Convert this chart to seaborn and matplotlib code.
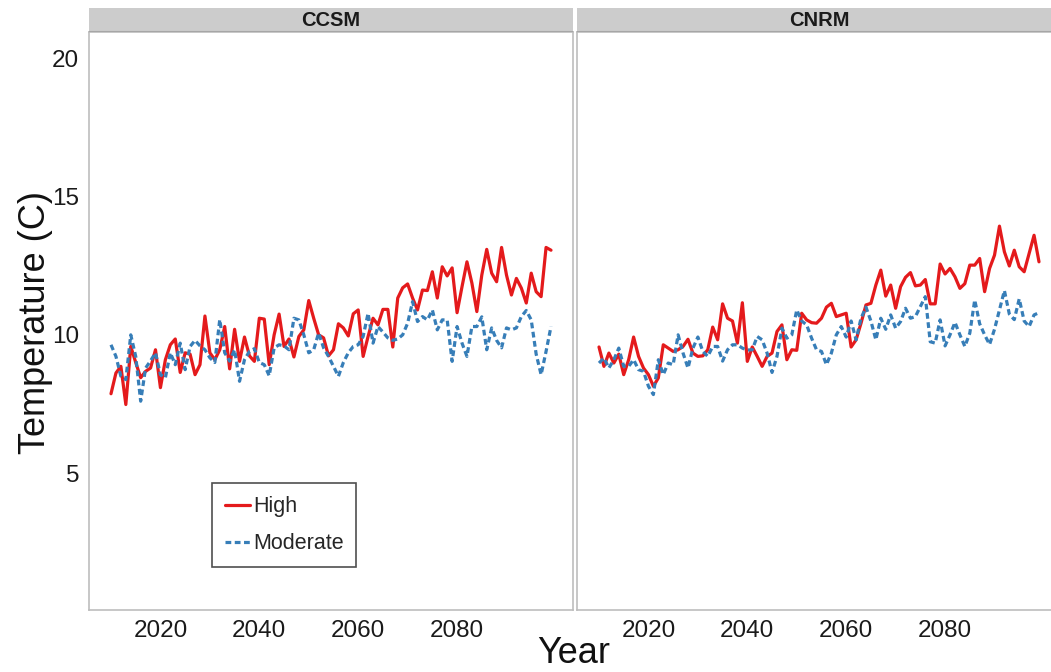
import matplotlib
matplotlib.use("Agg")
import pandas as pd
import matplotlib.pyplot as plt
import seaborn as sns

# =============================================================================
# Data
# =============================================================================
years = list(range(2010, 2100))

ccsm_high = [
    7.87, 8.62, 8.86, 7.48, 9.58, 9.00, 8.45, 8.68, 8.80, 9.46,
    8.09, 9.10, 9.64, 9.85, 8.64, 9.35, 9.30, 8.56, 8.92, 10.68,
    9.35, 9.10, 9.46, 10.30, 8.77, 10.20, 9.04, 9.92, 9.24, 9.04,
    10.60, 10.57, 8.92, 10.00, 10.75, 9.58, 9.85, 9.20, 9.94, 10.18,
    11.24, 10.60, 10.00, 9.89, 9.24, 9.46, 10.40, 10.25, 9.96, 10.76,
    10.90, 9.22, 9.94, 10.60, 10.36, 10.92, 10.92, 9.56, 11.33, 11.70,
    11.84, 11.33, 10.90, 11.62, 11.60, 12.28, 11.33, 12.46, 12.13, 12.42,
    10.80, 11.74, 12.64, 11.87, 10.84, 12.16, 13.09, 12.23, 11.92, 13.16,
    12.16, 11.44, 12.04, 11.69, 11.15, 12.23, 11.56, 11.38, 13.16, 13.06,
]
ccsm_moderate = [
    9.64, 9.22, 8.50, 8.38, 10.00, 9.22, 7.60, 8.80, 9.06, 9.35,
    8.56, 8.45, 9.35, 8.92, 9.70, 8.74, 9.58, 9.80, 9.60, 9.46,
    9.17, 9.00, 10.55, 9.35, 9.05, 9.46, 8.32, 9.10, 9.40, 9.50,
    9.00, 8.92, 8.52, 9.53, 9.64, 9.60, 9.46, 10.60, 10.54, 10.00,
    9.35, 9.46, 10.07, 9.53, 9.22, 8.86, 8.50, 9.00, 9.35, 9.58,
    9.64, 9.94, 10.78, 9.70, 10.30, 10.10, 9.89, 9.80, 9.85, 10.00,
    10.42, 11.20, 10.48, 10.66, 10.54, 10.90, 10.18, 10.54, 10.54, 9.04,
    10.30, 9.70, 9.22, 10.30, 10.30, 10.65, 9.46, 10.25, 9.80, 9.53,
    10.25, 10.18, 10.25, 10.66, 10.88, 10.54, 9.30, 8.56, 9.40, 10.30,
]
cnrm_high = [
    9.56, 8.86, 9.34, 8.98, 9.30, 8.56, 9.10, 9.92, 9.22, 8.80,
    8.56, 8.14, 8.44, 9.64, 9.52, 9.40, 9.46, 9.58, 9.84, 9.34,
    9.22, 9.24, 9.46, 10.28, 9.82, 11.12, 10.60, 10.50, 9.70, 11.16,
    9.04, 9.56, 9.22, 8.86, 9.22, 9.34, 10.12, 10.36, 9.10, 9.46,
    9.44, 10.78, 10.54, 10.44, 10.42, 10.60, 11.00, 11.14, 10.66, 10.72,
    10.78, 9.56, 9.82, 10.42, 11.08, 11.14, 11.80, 12.34, 11.40, 11.80,
    10.96, 11.74, 12.08, 12.25, 11.77, 11.80, 12.00, 11.12, 11.12, 12.56,
    12.20, 12.40, 12.10, 11.68, 11.85, 12.52, 12.52, 12.76, 11.56, 12.40,
    12.88, 13.93, 13.00, 12.49, 13.06, 12.46, 12.28, 12.94, 13.60, 12.64,
]
cnrm_moderate = [
    8.98, 9.16, 8.80, 9.10, 9.52, 8.86, 8.86, 9.10, 8.74, 8.68,
    8.14, 7.84, 9.10, 8.56, 8.98, 8.92, 10.00, 9.34, 8.80, 9.52,
    9.92, 9.40, 9.22, 9.58, 9.58, 9.05, 9.46, 9.64, 9.64, 9.52,
    9.45, 9.46, 9.94, 9.82, 9.34, 8.64, 9.22, 10.24, 9.88, 10.00,
    10.90, 10.50, 10.36, 9.88, 9.46, 9.40, 8.92, 9.34, 10.00, 10.30,
    9.92, 10.50, 9.82, 10.60, 11.00, 10.50, 9.82, 10.60, 10.20, 10.72,
    10.24, 10.48, 10.96, 10.60, 10.66, 11.02, 11.38, 9.75, 9.70, 10.54,
    9.60, 10.00, 10.45, 10.00, 9.58, 10.06, 11.26, 10.40, 10.00, 9.65,
    10.20, 10.90, 11.60, 10.75, 10.55, 11.30, 10.50, 10.30, 10.72, 10.80,
]

models = ["CCSM", "CNRM"]
scenarios = ["High", "Moderate"]
y_ticks = [5, 10, 15, 20]
x_ticks = [2020, 2040, 2060, 2080]

series = {
    ("CCSM", "High"): ccsm_high,
    ("CCSM", "Moderate"): ccsm_moderate,
    ("CNRM", "High"): cnrm_high,
    ("CNRM", "Moderate"): cnrm_moderate,
}

frames = []
for (model, scen), vals in series.items():
    frames.append(pd.DataFrame({"Year": years, "Temperature": vals,
                                "Model": model, "Scenario": scen}))
df = pd.concat(frames, ignore_index=True)

# =============================================================================
# Style
# =============================================================================
sns.set_style("white")
plt.rcParams["font.family"] = ["Liberation Sans", "DejaVu Sans"]

palette = {"High": "#E41A1C", "Moderate": "#377EB8"}
dashes = {"High": "", "Moderate": (1.8, 1.1)}
border = "#BDBDBD"

W, H = 1051, 672
fig = plt.figure(figsize=(W / 100, H / 100), dpi=100)


def px_axes(x0, y0, x1, y1):
    return fig.add_axes([x0 / W, 1 - y1 / H, (x1 - x0) / W, (y1 - y0) / H])


panel_x = [(89, 573), (577, 1061)]

# =============================================================================
# Panels
# =============================================================================
for i, model in enumerate(models):
    x0, x1 = panel_x[i]
    ax = px_axes(x0, 32, x1, 610)
    sub = df[df["Model"] == model]
    sns.lineplot(data=sub, x="Year", y="Temperature", hue="Scenario",
                 style="Scenario", hue_order=scenarios, style_order=scenarios,
                 palette=palette, dashes=dashes, linewidth=2.3,
                 legend=(i == 0), ax=ax)

    ax.set_xlim(2005.55, 2103.45)
    ax.set_ylim(0.05, 20.95)
    ax.set_xticks(x_ticks)
    ax.set_yticks(y_ticks)
    ax.set_xlabel("")
    ax.set_ylabel("")
    ax.tick_params(axis="both", direction="out", length=4, width=1,
                   color="#333333", labelsize=17.5, labelcolor="#1a1a1a", pad=3)
    if i == 1:
        ax.tick_params(axis="y", left=False, labelleft=False)
    for s in ax.spines.values():
        s.set_color(border)
        s.set_linewidth(1.2)

    # facet strip
    st = px_axes(x0, 8, x1, 32)
    st.set_facecolor("#CCCCCC")
    st.set_xticks([])
    st.set_yticks([])
    for s in st.spines.values():
        s.set_visible(False)
    st.axhline(0, color="#A6A6A6", lw=1.5)
    st.text(0.5, 0.5, model, ha="center", va="center", fontsize=14.5,
            fontweight="bold", color="#1a1a1a", transform=st.transAxes)

    if i == 0:
        handles, labels = ax.get_legend_handles_labels()
        leg = ax.legend(handles, labels, loc="lower left",
                        bbox_to_anchor=(0.254, 0.074), fontsize=15.5,
                        frameon=True, fancybox=False, edgecolor="#222222",
                        handlelength=1.15, handletextpad=0.15,
                        labelspacing=0.75, borderpad=0.6,
                        borderaxespad=0)
        leg.get_frame().set_linewidth(1.2)

# =============================================================================
# Axis titles
# =============================================================================
fig.text(574 / W, 1 - 671 / H, "Year", ha="center", va="bottom",
         fontsize=26, color="#111111")
fig.text(36 / W, 1 - 322 / H, "Temperature (C)", ha="center", va="center",
         rotation=90, fontsize=26, color="#111111")

fig.savefig("out.png", dpi=100)
